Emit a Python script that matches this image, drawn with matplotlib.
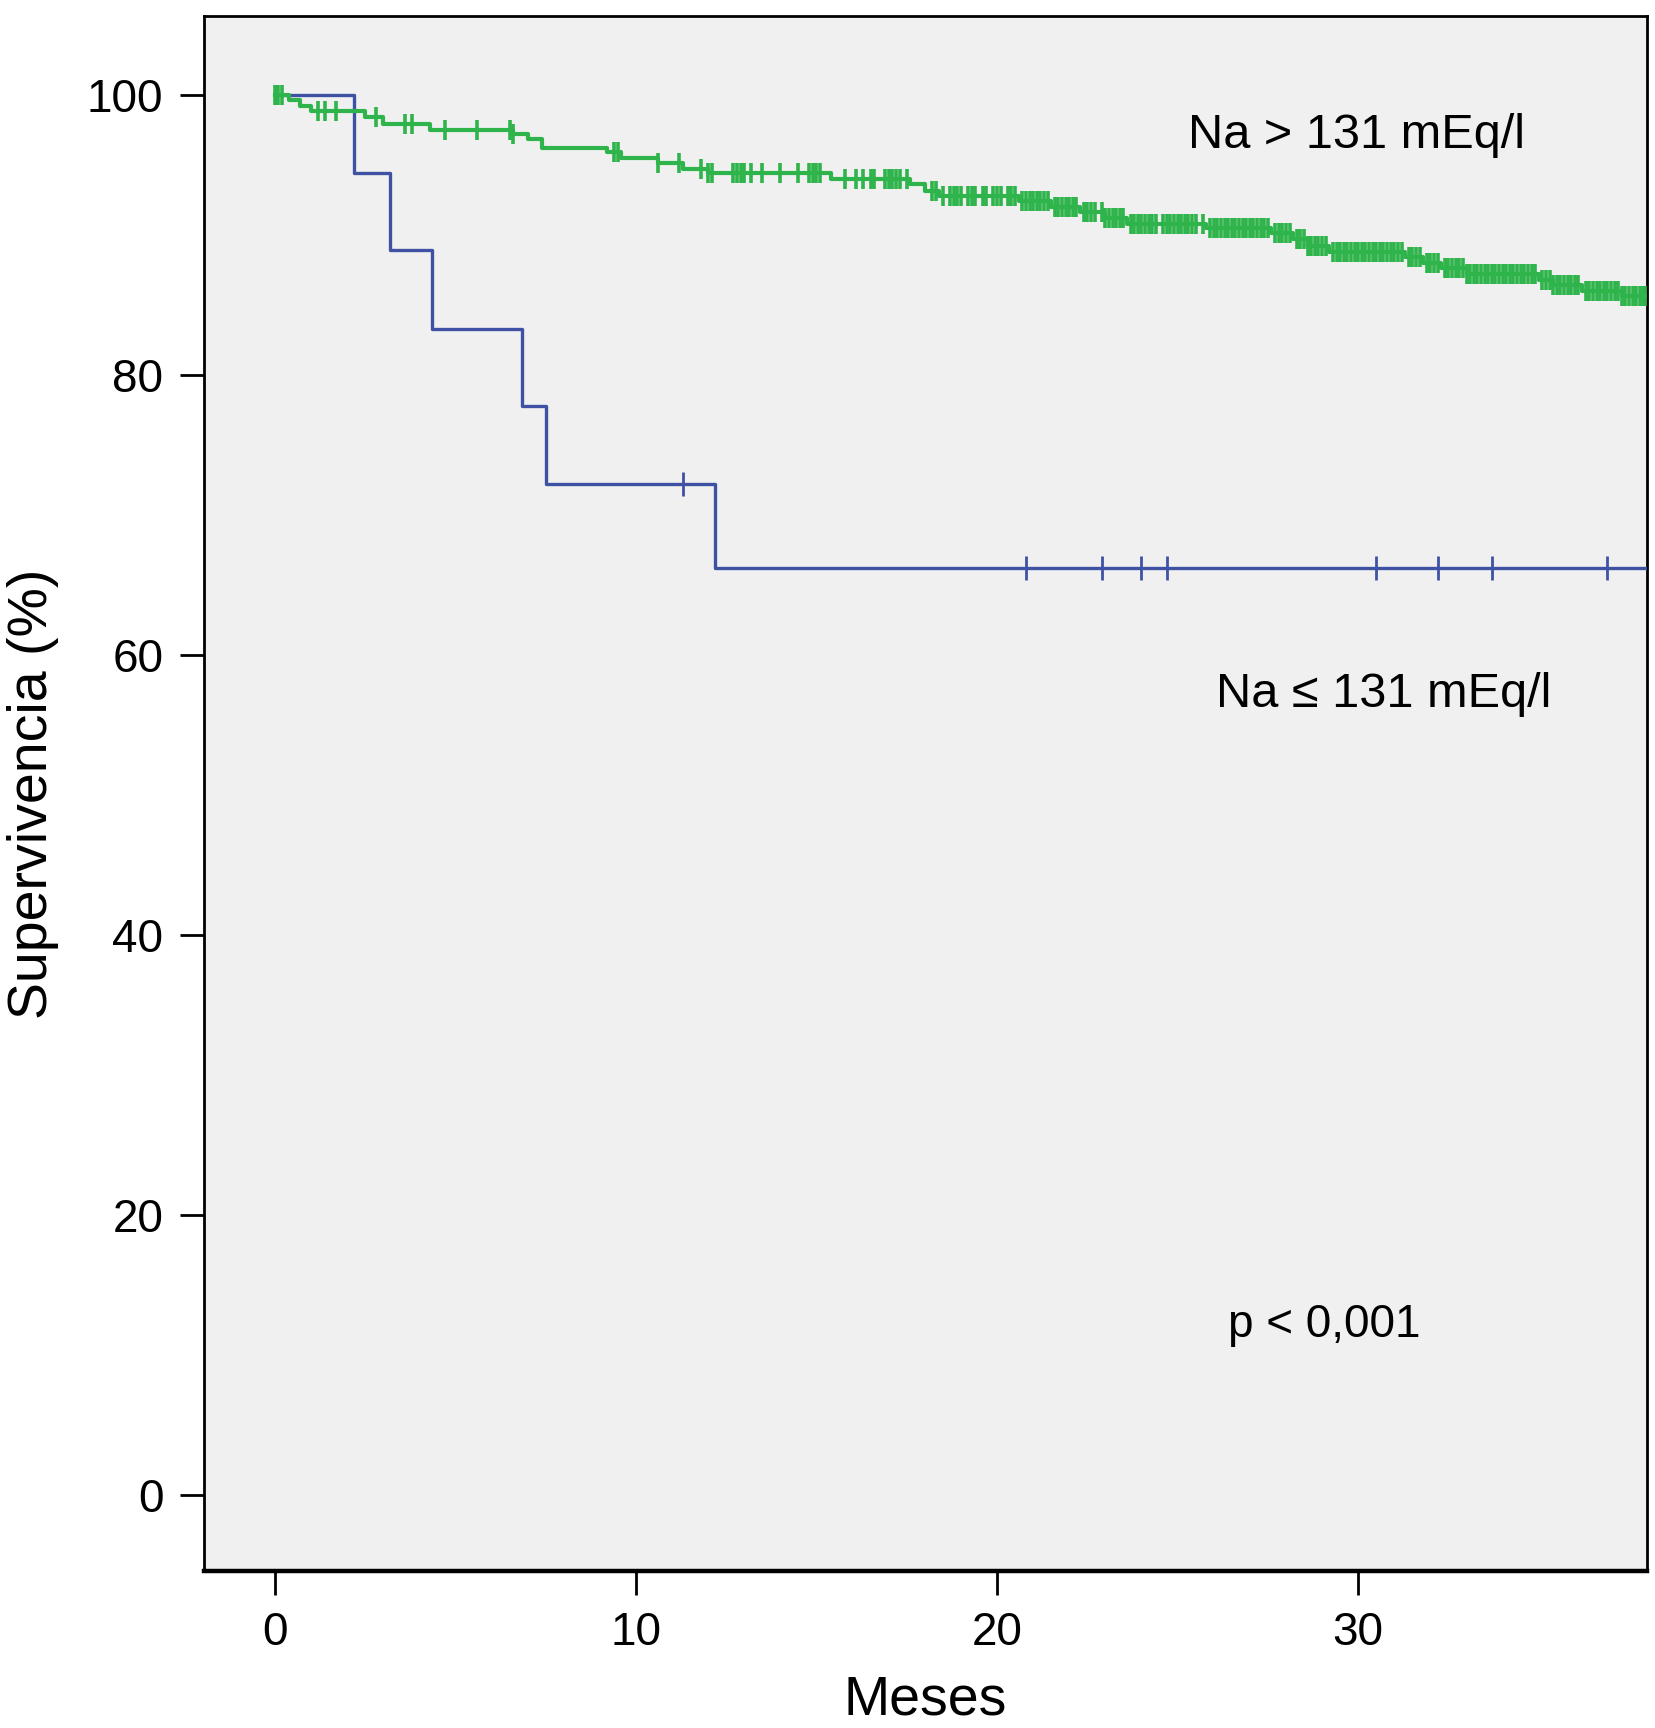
import numpy as np
import matplotlib.pyplot as plt

# Na <= 131 mEq/l group (blue): event times and survival after each event
low_event_t = [2.2, 3.2, 4.35, 6.85, 7.5, 12.2]
low_event_s = [94.4, 88.9, 83.3, 77.8, 72.2, 66.2]
low_censor_t = [11.3, 20.8, 22.9, 24.0, 24.7, 30.5, 32.2, 33.7, 36.9]
low_end = 38.0

# Na > 131 mEq/l group (green)
high_event_t = [0.4, 0.7, 1.0, 2.5, 3.0, 4.3, 6.6, 7.0, 7.4, 9.2, 9.6, 10.6,
                11.3, 12.0, 15.4, 17.6, 18.0, 18.4, 20.6, 21.5, 22.3, 23.0,
                23.6, 25.8, 27.6, 28.2, 28.6, 29.2, 31.3, 31.8, 32.3, 33.0,
                35.0, 35.4, 36.2, 37.3]
high_event_s = [99.6, 99.2, 98.8, 98.4, 97.9, 97.5, 97.2, 96.8, 96.2, 95.9,
                95.5, 95.1, 94.7, 94.4, 94.0, 93.6, 93.1, 92.8, 92.4, 92.0,
                91.6, 91.2, 90.8, 90.5, 90.1, 89.7, 89.2, 88.8, 88.4, 88.0,
                87.6, 87.2, 86.8, 86.4, 86.0, 85.6]
high_censor_t = [
    0.0, 0.05, 0.1, 0.2, 1.2, 1.4, 1.7, 2.8, 3.6, 3.8, 4.7, 5.6, 6.5, 6.6,
    9.4, 9.5, 10.6, 11.2, 11.8, 12.0, 12.1, 12.7, 12.8, 12.9, 13.0, 13.2,
    13.5, 14.0, 14.5, 14.8, 14.9, 15.0, 15.1, 15.8, 16.1, 16.3, 16.5, 16.6,
    16.9, 17.0, 17.1, 17.2, 17.3, 17.5, 18.2, 18.3, 18.5, 18.7, 18.8, 18.9,
    19.0, 19.2, 19.3, 19.4, 19.6, 19.7, 19.9, 20.0, 20.1, 20.3, 20.4, 20.5,
    20.7, 20.8, 20.9, 21.0, 21.1, 21.2, 21.3, 21.4, 21.6, 21.7, 21.8, 21.9,
    22.0, 22.1, 22.2, 22.4, 22.5, 22.6, 22.7, 22.9, 23.0, 23.1, 23.2, 23.3,
    23.4, 23.5, 23.7, 23.8, 23.9, 24.0, 24.1, 24.2, 24.3, 24.4, 24.6, 24.7,
    24.8, 24.9, 25.0, 25.1, 25.2, 25.3, 25.4, 25.5, 25.7, 25.9, 26.0, 26.1,
    26.2, 26.3, 26.4, 26.5, 26.6, 26.7, 26.8, 26.9, 27.0, 27.1, 27.2, 27.3,
    27.4, 27.5, 27.7, 27.8, 27.9, 28.0, 28.1, 28.3, 28.4, 28.5, 28.6, 28.7,
    28.8, 28.9, 29.0, 29.1, 29.3, 29.4, 29.5, 29.6, 29.7, 29.8, 29.9, 30.0,
    30.1, 30.2, 30.3, 30.4, 30.5, 30.6, 30.7, 30.8, 30.9, 31.0, 31.1, 31.2,
    31.4, 31.5, 31.6, 31.7, 31.9, 32.0, 32.1, 32.2, 32.4, 32.5, 32.6, 32.7,
    32.8, 32.9, 33.0, 33.1, 33.2, 33.3, 33.4, 33.5, 33.6, 33.7, 33.8, 33.9,
    34.0, 34.1, 34.2, 34.3, 34.4, 34.5, 34.6, 34.7, 34.8, 34.9, 35.1, 35.2,
    35.3, 35.4, 35.5, 35.6, 35.7, 35.8, 35.9, 36.0, 36.1, 36.3, 36.4, 36.5,
    36.6, 36.7, 36.8, 36.9, 37.0, 37.1, 37.2, 37.3, 37.4, 37.5, 37.6, 37.7,
    37.8, 37.9, 37.95,
]
high_end = 38.0

x_ticks = [0, 10, 20, 30]
y_ticks = [0, 20, 40, 60, 80, 100]

label_high = 'Na > 131 mEq/l'
label_low = 'Na ≤ 131 mEq/l'
p_text = 'p < 0,001'

GREEN = '#2fb44c'
BLUE = '#3f51a3'

plt.rcParams['font.family'] = ['Liberation Sans', 'DejaVu Sans']


def step_curve(ev_t, ev_s, end):
    t = np.r_[0.0, ev_t, end]
    s = np.r_[100.0, ev_s, ev_s[-1]]
    return t, s


def level_at(times, ev_t, ev_s):
    idx = np.searchsorted(ev_t, times, side='right')
    levels = np.r_[100.0, ev_s]
    return levels[idx]


fig = plt.figure(figsize=(16.56, 17.28), dpi=100)
ax = fig.add_axes([0.123, 0.091, 0.8716, 0.8996])
ax.set_facecolor('#f0f0f0')

t, s = step_curve(low_event_t, low_event_s, low_end)
ax.step(t, s, where='post', color=BLUE, lw=2.4, zorder=3)
ax.plot(low_censor_t, level_at(low_censor_t, low_event_t, low_event_s),
        ls='none', marker='|', ms=17, mew=2.0, color=BLUE, zorder=3)

t, s = step_curve(high_event_t, high_event_s, high_end)
ax.step(t, s, where='post', color=GREEN, lw=3.0, zorder=4)
ax.plot(high_censor_t, level_at(high_censor_t, high_event_t, high_event_s),
        ls='none', marker='|', ms=15, mew=2.6, color=GREEN, zorder=4)

ax.text(25.3, 96.2, label_high, fontsize=35, va='baseline', ha='left')
ax.text(26.05, 56.3, label_low, fontsize=35, va='baseline', ha='left')
ax.text(26.4, 11.3, p_text, fontsize=33, va='baseline', ha='left')

ax.set_xlim(-1.97, 38.0)
ax.set_ylim(-5.4, 105.6)
ax.set_xticks(x_ticks)
ax.set_yticks(y_ticks)
ax.tick_params(axis='both', direction='out', length=17, width=2.0,
               labelsize=33, pad=12)
ax.set_xlabel('Meses', fontsize=40, labelpad=14)
ax.set_ylabel('Supervivencia (%)', fontsize=40, labelpad=20)

for side in ['left', 'right', 'top']:
    ax.spines[side].set_linewidth(2.0)
ax.spines['bottom'].set_linewidth(3.2)

fig.savefig('out.png', dpi=100)
